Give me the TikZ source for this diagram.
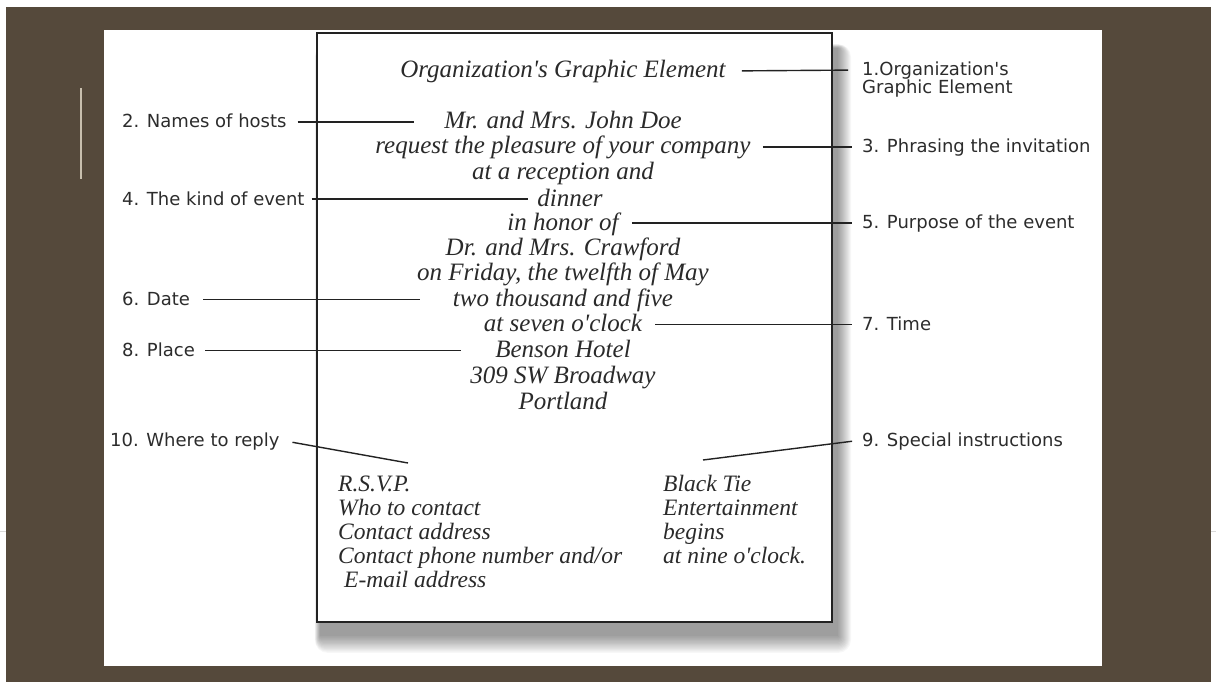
\documentclass[tikz,border=0pt]{standalone}
\usepackage{fontspec}
\setmainfont{Liberation Serif}
\newfontfamily\invfont{Liberation Serif}
\newfontfamily\labfont{DejaVu Sans}
\definecolor{bg}{HTML}{55493B}
\definecolor{ink}{HTML}{2A2A2A}
\definecolor{labink}{HTML}{2C2C2C}
\definecolor{barc}{HTML}{C8BFAE}
\definecolor{linec}{HTML}{222222}
\begin{document}
\begin{tikzpicture}[x=1pt,y=-1pt,
  inv/.style={font=\invfont\fontsize{25}{25}\selectfont\itshape, text=ink, inner sep=0pt, text height=19pt, text depth=5pt},
  small/.style={font=\invfont\fontsize{23.5}{23.5}\selectfont\itshape, text=ink, inner sep=0pt, text height=18pt, text depth=5pt, anchor=west},
  lab/.style={font=\labfont\fontsize{18}{18}\selectfont, text=labink, inner sep=0pt, text height=15.5pt, text depth=3.5pt, anchor=west},
  conn/.style={draw=linec, line width=1.4pt},
  card/.style={draw=linec, line width=1.8pt, fill=white}
]
\useasboundingbox (0,0) rectangle (1216,682);
% background
\fill[white] (0,0) rectangle (1216,682);
\fill[bg] (6,7) rectangle (1211,682);
\draw[black!15, line width=0.6pt] (0,531) -- (6,531);
\draw[black!15, line width=0.6pt] (1211,531) -- (1216,531);
\fill[white] (104,30) rectangle (1102,666);
\draw[barc, line width=1.3pt] (81,88) -- (81,179);
% card shadow
\foreach \i in {0,...,13}{
  \fill[black, opacity=0.033, rounded corners=\i pt] (320-\i*0.4,48-\i*0.3) rectangle (838+\i,636+\i*1.3);
}
\path[card] (317,33) rectangle (832,622);
% invitation text
\node[inv] (org) at (563,71) {Organization's Graphic Element};
\node[inv] (mr)  at (563,122) {Mr. and Mrs. John Doe};
\node[inv] (req) at (563,147) {request the pleasure of your company};
\node[inv] (rec) at (563,172) {at a reception and};
\node[inv] (din) at (570,199) {dinner};
\node[inv] (hon) at (563,223) {in honor of};
\node[inv] (dr)  at (563,248) {Dr. and Mrs. Crawford};
\node[inv] (fri) at (563,273) {on Friday, the twelfth of May};
\node[inv] (two) at (563,299.5) {two thousand and five};
\node[inv] (sev) at (563,324.5) {at seven o'clock};
\node[inv] (ben) at (563,350.5) {Benson Hotel};
\node[inv] (swb) at (563,376) {309 SW Broadway};
\node[inv] (por) at (563,402) {Portland};
% bottom blocks
\node[small] (rsvp)  at (338,485) {R.S.V.P.};
\node[small] (who)   at (338,509) {Who to contact};
\node[small] (addr)  at (338,533) {Contact address};
\node[small] (phone) at (338,557) {Contact phone number and/or};
\node[small] (email) at (344,581) {E-mail address};
\node[small] (tie)   at (663,485) {Black Tie};
\node[small] (ent)   at (663,509) {Entertainment};
\node[small] (beg)   at (663,533) {begins};
\node[small] (nine)  at (663,557) {at nine o'clock.};
% labels
\node[lab] (L1)  at (862,70) {1.Organization's};
\node[lab] (L1b) at (862,88) {Graphic Element};
\node[lab] (L2)  at (122,122) {2. Names of hosts};
\node[lab] (L3)  at (862,147) {3. Phrasing the invitation};
\node[lab] (L4)  at (122,199) {4. The kind of event};
\node[lab] (L5)  at (862,223) {5. Purpose of the event};
\node[lab] (L6)  at (122,299.5) {6. Date};
\node[lab] (L7)  at (862,324.5) {7. Time};
\node[lab] (L8)  at (122,350.5) {8. Place};
\node[lab] (L9)  at (862,440) {9. Special instructions};
\node[lab] (L10) at (110,440) {10. Where to reply};
\coordinate (c10) at (408,463);
\coordinate (c9) at (703,460);
% connectors
\draw[conn, shorten <=16pt, shorten >=14pt] (org.east) -- (L1.west);
\draw[conn, shorten <=11pt, shorten >=30pt] (L2.east) -- (mr.west);
\draw[conn, shorten <=12pt, shorten >=10pt] (req.east) -- (L3.west);
\draw[conn, shorten <=7pt, shorten >=9pt] (L4.east) -- (din.west);
\draw[conn, shorten <=13pt, shorten >=10pt] (hon.east) -- (L5.west);
\draw[conn, shorten <=13pt, shorten >=33pt] (L6.east) -- (two.west);
\draw[conn, shorten <=13pt, shorten >=10pt] (sev.east) -- (L7.west);
\draw[conn, shorten <=10pt, shorten >=34pt] (L8.east) -- (ben.west);
\draw[conn, shorten <=13pt] (L10.east) -- (c10);
\draw[conn, shorten >=10pt] (c9) -- (L9.west);
\end{tikzpicture}
\end{document}
